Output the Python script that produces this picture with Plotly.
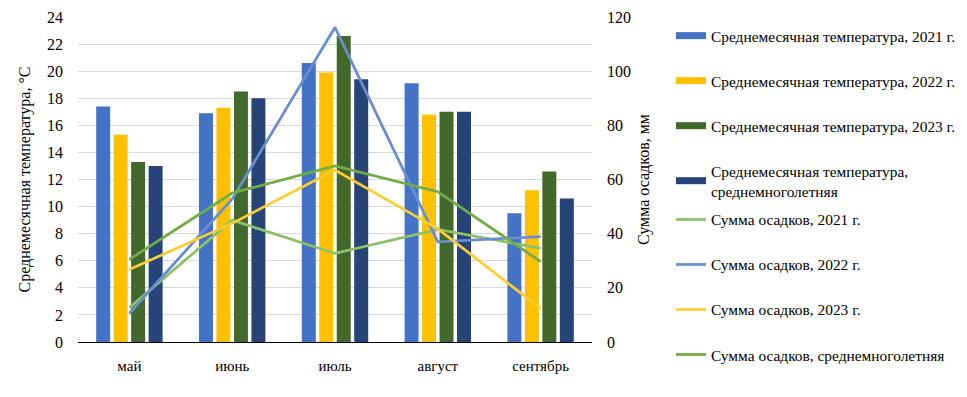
import plotly.graph_objects as go

months = ["май", "июнь", "июль", "август", "сентябрь"]

temp_2021 = [17.4, 16.9, 20.6, 19.1, 9.5]
temp_2022 = [15.3, 17.3, 19.9, 16.8, 11.2]
temp_2023 = [13.3, 18.5, 22.6, 17.0, 12.6]
temp_avg = [13.0, 18.0, 19.4, 17.0, 10.6]

prec_2021 = [12.7, 45.0, 32.7, 41.6, 34.6]
prec_2022 = [10.6, 52.8, 116.2, 37.0, 38.9]
prec_2023 = [26.8, 43.8, 63.5, 41.8, 12.4]
prec_avg = [30.5, 55.0, 65.0, 55.5, 29.7]

left_ticks = [0, 2, 4, 6, 8, 10, 12, 14, 16, 18, 20, 22, 24]
right_ticks = [0, 20, 40, 60, 80, 100, 120]

FONT = "Times New Roman, Liberation Serif, DejaVu Serif, serif"

fig = go.Figure()

bars = [
    ("Среднемесячная температура, 2021 г.", temp_2021, "#4472C4"),
    ("Среднемесячная температура, 2022 г.", temp_2022, "#FFC000"),
    ("Среднемесячная температура, 2023 г.", temp_2023, "#43682B"),
    ("Среднемесячная температура,<br>среднемноголетняя", temp_avg, "#264478"),
]
for i, (name, vals, col) in enumerate(bars):
    fig.add_trace(go.Bar(x=months, y=vals, name=name, marker_color=col,
                         marker_line_width=0, showlegend=False, yaxis="y"))
# legend entries for bars (wide rectangular swatch like the original)
for i, (name, vals, col) in enumerate(bars):
    fig.add_trace(go.Scatter(x=[None], y=[None], name=name, mode="lines",
                             line=dict(color=col, width=7),
                             legend="legend", legendgroup=f"g{i}",
                             hoverinfo="skip"))

lines = [
    ("Сумма осадков, 2021 г.", prec_2021, "#8CC168"),
    ("Сумма осадков, 2022 г.", prec_2022, "#698ED0"),
    ("Сумма осадков, 2023 г.", prec_2023, "#FFCD33"),
    ("Сумма осадков, среднемноголетняя", prec_avg, "#70AD47"),
]
for j, (name, vals, col) in enumerate(lines):
    fig.add_trace(go.Scatter(x=months, y=vals, name=name, mode="lines",
                             line=dict(color=col, width=2.75),
                             legend="legend2", legendgroup=f"l{j}",
                             yaxis="y2"))

legend_common = dict(xref="container", yref="container", x=0.6856,
                     xanchor="left", yanchor="top",
                     font=dict(family=FONT, size=15.4),
                     tracegroupgap=22, traceorder="grouped", maxheight=397,
                     itemwidth=30, bgcolor="rgba(0,0,0,0)")

fig.update_layout(
    width=967, height=397,
    margin=dict(l=70, r=383, t=9, b=63, autoexpand=False),
    paper_bgcolor="white", plot_bgcolor="white",
    font=dict(family=FONT, color="#000000", size=15),
    barmode="group", bargap=0.32, bargroupgap=0.2,
    xaxis=dict(showline=True, linecolor="#000000", linewidth=1,
               ticks="", showgrid=False, tickfont=dict(family=FONT, size=15),
               ticklabelstandoff=10, automargin=False),
    yaxis=dict(range=[0, 24], tickvals=left_ticks, showgrid=True,
               gridcolor="#D9D9D9", gridwidth=1, zeroline=False,
               tickfont=dict(family=FONT, size=16), ticklabelstandoff=14,
               automargin=False,
               title=dict(text="Среднемесячная температура, °C",
                          font=dict(family=FONT, size=16), standoff=12)),
    yaxis2=dict(range=[0, 120], tickvals=right_ticks, overlaying="y",
                side="right", showgrid=False, zeroline=False,
                tickfont=dict(family=FONT, size=16), ticklabelstandoff=14,
                automargin=False,
                title=dict(text="Сумма осадков, мм",
                           font=dict(family=FONT, size=16), standoff=7)),
    legend=dict(y=0.972, **legend_common),
    legend2=dict(y=0.509, **legend_common),
    showlegend=True,
)

fig.write_html("out.html")
